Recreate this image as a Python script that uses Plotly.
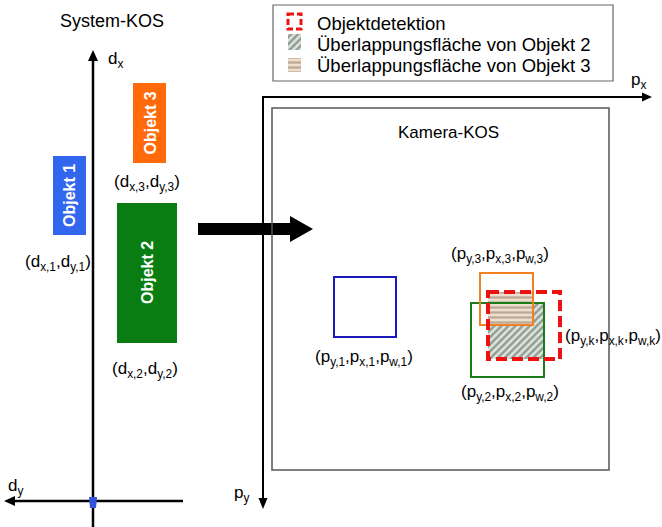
import plotly.graph_objects as go

W, H = 662, 527
FONT = "Liberation Sans, Arial, sans-serif"

# ---- diagram geometry (pixel units of the 662x527 canvas) ----
obj_names = ["Objekt 1", "Objekt 2", "Objekt 3"]
obj_colors = ["#3366ee", "#0a7d12", "#ff6a0a"]
obj_x0 = [53, 117, 133]
obj_x1 = [86, 177, 166]
obj_y0 = [156, 203, 83]
obj_y1 = [235, 343, 163]
obj_labels = ["(d<sub>x,1</sub>,d<sub>y,1</sub>)", "(d<sub>x,2</sub>,d<sub>y,2</sub>)", "(d<sub>x,3</sub>,d<sub>y,3</sub>)"]
obj_label_x = [58, 145, 147]
obj_label_y = [263, 370, 183]

cam_names = ["box1", "box2", "box3", "det"]
cam_colors = ["#1a1ab8", "#1a7d1a", "#f08020", "#ee1111"]
cam_x0 = [334, 471, 480, 488]
cam_x1 = [396, 544, 533, 560]
cam_y0 = [277, 303, 273, 292]
cam_y1 = [337, 377, 325, 359]
cam_labels = ["(p<sub>y,1</sub>,p<sub>x,1</sub>,p<sub>w,1</sub>)",
              "(p<sub>y,2</sub>,p<sub>x,2</sub>,p<sub>w,2</sub>)",
              "(p<sub>y,3</sub>,p<sub>x,3</sub>,p<sub>w,3</sub>)",
              "(p<sub>y,k</sub>,p<sub>x,k</sub>,p<sub>w,k</sub>)"]
cam_label_x = [364, 510, 500, 563]
cam_label_y = [358, 393, 255, 337]
cam_label_anchor = ["center", "center", "center", "left"]

legend_items = ["Objektdetektion", "Überlappungsfläche von Objekt 2", "Überlappungsfläche von Objekt 3"]
legend_y = [23, 44, 65]

fig = go.Figure()
shapes = []
ann = []


def rect(x0, y0, x1, y1, **kw):
    shapes.append(dict(type="rect", x0=x0, y0=y0, x1=x1, y1=y1, xref="x", yref="y", **kw))


def text(x, y, t, size=16, color="black", xanchor="center", bold=False, angle=0):
    if bold:
        t = "<b>" + t + "</b>"
    ann.append(dict(x=x, y=y, xref="x", yref="y", text=t, showarrow=False,
                    xanchor=xanchor, yanchor="middle", textangle=angle,
                    font=dict(family=FONT, size=size, color=color)))


def path(d, color="black", fill=None, width=0):
    s = dict(type="path", path=d, xref="x", yref="y", line=dict(color=color, width=width))
    if fill:
        s["fillcolor"] = fill
    shapes.append(s)


# ---- hatch areas (bars with patterns) ----
hatch2 = dict(shape="/", fgcolor="#465646", bgcolor="#dfe5df", size=5, solidity=0.5)
hatch3 = dict(shape="-", fgcolor="#8c7264", bgcolor="#eedfcc", size=5, solidity=0.45)


def hatch_bar(x0, x1, y0, y1, pattern):
    fig.add_trace(go.Bar(x=[(x0 + x1) / 2], width=[x1 - x0], base=[y0], y=[y1 - y0],
                         marker=dict(color=pattern["bgcolor"], pattern=pattern, line=dict(width=0)),
                         hoverinfo="skip", showlegend=False))


# overlap of object 2 with detection
i2, idet, i3 = 1, 3, 2
hatch_bar(max(cam_x0[i2], cam_x0[idet]), min(cam_x1[i2], cam_x1[idet]),
          max(cam_y0[i2], cam_y0[idet]), min(cam_y1[i2], cam_y1[idet]), hatch2)
# overlap of object 3 with detection
hatch_bar(max(cam_x0[i3], cam_x0[idet]), min(cam_x1[i3], cam_x1[idet]),
          max(cam_y0[i3], cam_y0[idet]), min(cam_y1[i3], cam_y1[idet]), hatch3)
# legend icons
hatch_bar(288, 301, 34, 50, hatch2)
hatch_bar(288, 301, 58, 72, hatch3)

# ---- System-KOS ----
text(112, 21, "System-KOS", size=18)
shapes.append(dict(type="line", x0=93, y0=527, x1=93, y1=60, xref="x", yref="y", line=dict(color="black", width=2.5)))
path("M 93 50 L 88 61 L 98 61 Z", fill="black")
shapes.append(dict(type="line", x0=183, y0=501, x1=14, y1=501, xref="x", yref="y", line=dict(color="black", width=2.5)))
path("M 4 501 L 15 496 L 15 506 Z", fill="black")
path("M 89 497 L 97 497 L 96 508 L 90 508 Z", fill="#3355dd")
text(106, 60, "d<sub>x</sub>", size=17, xanchor="left")
text(6, 487, "d<sub>y</sub>", size=17, xanchor="left")

for i in range(3):
    rect(obj_x0[i], obj_y0[i], obj_x1[i], obj_y1[i], fillcolor=obj_colors[i], line=dict(width=0))
    text((obj_x0[i] + obj_x1[i]) / 2, (obj_y0[i] + obj_y1[i]) / 2, obj_names[i],
         size=16, color="white", bold=True, angle=-90)
    text(obj_label_x[i], obj_label_y[i], obj_labels[i], size=17)

# ---- big arrow ----
path("M 198 223 L 290 223 L 290 216 L 313 229 L 290 242 L 290 235 L 198 235 Z", fill="black")

# ---- Kamera-KOS ----
shapes.append(dict(type="line", x0=263, y0=97, x1=644, y1=97, xref="x", yref="y", line=dict(color="black", width=2)))
path("M 652 97 L 642 92.5 L 642 101.5 Z", fill="black")
shapes.append(dict(type="line", x0=263, y0=96, x1=263, y1=500, xref="x", yref="y", line=dict(color="black", width=2)))
path("M 263 509 L 258.5 498 L 267.5 498 Z", fill="black")
text(629, 81, "p<sub>x</sub>", size=17, xanchor="left")
text(232, 494, "p<sub>y</sub>", size=17, xanchor="left")
rect(272, 108, 609, 470, line=dict(color="#555555", width=1.5))
text(448, 132, "Kamera-KOS", size=17)

for i in range(4):
    dash = "11px,5px" if cam_names[i] == "det" else "solid"
    width = 4 if cam_names[i] == "det" else 2
    rect(cam_x0[i], cam_y0[i], cam_x1[i], cam_y1[i], line=dict(color=cam_colors[i], width=width, dash=dash))
    text(cam_label_x[i], cam_label_y[i], cam_labels[i], size=17, xanchor=cam_label_anchor[i])

# ---- legend ----
rect(273, 5, 613, 81, line=dict(color="#666666", width=1.2))
rect(288, 14, 301, 29, line=dict(color="#ee1111", width=3, dash="6px,3px"))
for lbl, ly in zip(legend_items, legend_y):
    text(315, ly, lbl, size=18.5, xanchor="left")

fig.update_layout(
    width=W, height=H, margin=dict(l=0, r=0, t=0, b=0),
    paper_bgcolor="white", plot_bgcolor="white",
    xaxis=dict(range=[0, W], visible=False, fixedrange=True),
    yaxis=dict(range=[H, 0], visible=False, fixedrange=True),
    barmode="overlay", bargap=0, showlegend=False,
    shapes=shapes, annotations=ann,
)
fig.write_html("out.html", config={"displayModeBar": False},
               post_script="document.body.style.margin='0';document.body.style.overflow='hidden';")
